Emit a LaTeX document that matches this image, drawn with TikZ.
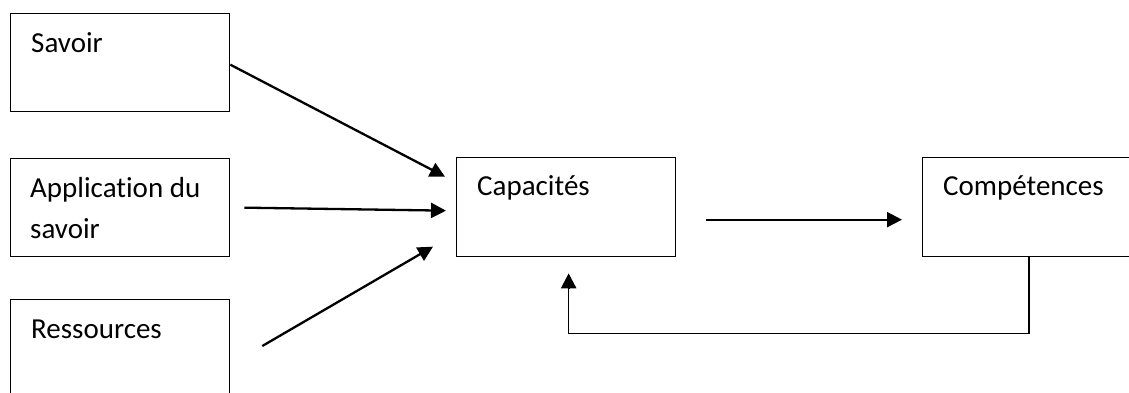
\documentclass[tikz,border=0pt]{standalone}
\usepackage{fontspec}
\setmainfont[Ligatures=NoCommon]{Carlito}
\usetikzlibrary{arrows.meta,calc}
\tikzset{
  box/.style={draw=black, line width=1.3pt, inner sep=0pt, anchor=north west},
  lbl/.style={anchor=base west, inner sep=0pt, font=\fontsize{29}{41.5}\selectfont},
  arr/.style={line width=2.3pt, -{Triangle[length=15pt,width=15pt]}},
  fb/.style={line width=1.6pt}
}
\begin{document}
\begin{tikzpicture}[x=1pt,y=-1pt]
\useasboundingbox (0,0) rectangle (1129,392);
\clip (0,0) rectangle (1129,392);
\fill[white] (0,0) rectangle (1129,392);
% boxes
\node[box, minimum width=219pt, minimum height=98pt] (sav) at (10,13) {};
\node[box, minimum width=219pt, minimum height=98pt] (app) at (10,158) {};
\node[box, minimum width=219pt, minimum height=100pt] (res) at (10,299) {};
\node[box, minimum width=219pt, minimum height=99pt] (cap) at (456,157) {};
\node[box, minimum width=213pt, minimum height=99pt] (comp) at (922,157) {};
% labels
\node[lbl] (tsav) at ($(sav.north west)+(21,39)$) {Savoir};
\node[lbl] (tapp) at ($(app.north west)+(20,39)$) {\parbox[t]{200pt}{\baselineskip=41.5pt Application du\\savoir}};
\node[lbl] (tres) at ($(res.north west)+(21,39)$) {Ressources};
\node[lbl] (tcap) at ($(cap.north west)+(21,38)$) {Capacités};
\node[lbl] (tcomp) at ($(comp.north west)+(21,38)$) {Compétences};
% connectors
\draw[arr] ($(sav.east)+(0,2)$) -- ($(cap.west)+(-11,-30.5)$);
\draw[arr] ($(app.east)+(14,0)$) -- ($(cap.west)+(-10,3.5)$);
\draw[arr] ($(res.north east)+(32,47)$) -- ($(cap.west)+(-23,39.5)$);
\draw[arr] ($(cap.east)+(30,12.5)$) -- ($(comp.west)+(-20,12.5)$);
\draw[fb] (comp.south) -- ($(comp.south)+(0,76)$) -- ($(cap.south)+(2.5,76)$) -- ($(cap.south)+(2.5,30)$);
\draw[arr] ($(cap.south)+(2.5,31)$) -- ($(cap.south)+(2.5,16)$);
\end{tikzpicture}
\end{document}
